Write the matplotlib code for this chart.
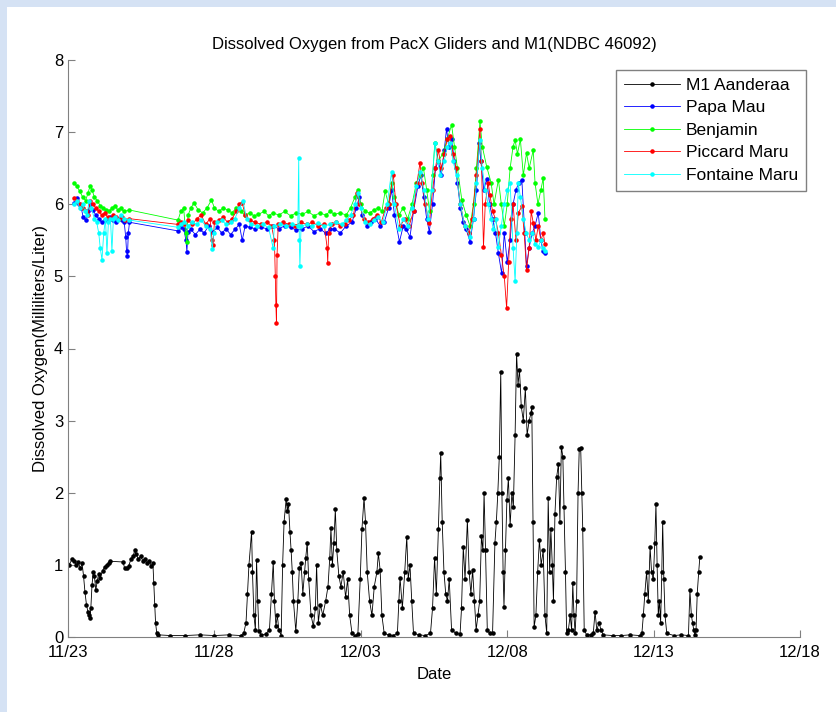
import numpy as np
import matplotlib
matplotlib.use("Agg")
import matplotlib.pyplot as plt
from matplotlib.patches import Rectangle

plt.rcParams['font.family'] = ['Liberation Sans', 'DejaVu Sans']

# x values are days after 11/23
TICK_DAYS   = [0, 5, 10, 15, 20, 25]
TICK_LABELS = ['11/23', '11/28', '12/03', '12/08', '12/13', '12/18']

# M1 Aanderaa mooring
m1_days = [0.03, 0.15, 0.22, 0.28, 0.35, 0.42, 0.48, 0.53, 0.58, 0.63, 0.68, 0.72, 0.75, 0.78, 0.82,
           0.86, 0.9, 0.95, 1.0, 1.05, 1.1, 1.18, 1.25, 1.32, 1.4, 1.45,
           1.88, 1.93, 2.0, 2.07, 2.15, 2.22, 2.28, 2.33, 2.4, 2.48, 2.55, 2.62, 2.7, 2.78, 2.85, 2.9,
           2.93, 2.96, 2.99, 3.03, 3.08, 3.5, 4.0, 4.5, 5.0, 5.5, 5.9,
           6.0, 6.08, 6.13, 6.18, 6.27, 6.3, 6.35, 6.4, 6.44, 6.48, 6.52, 6.6, 6.75, 6.88, 6.95, 7.01,
           7.05, 7.1, 7.15, 7.2, 7.28, 7.33, 7.38, 7.45, 7.49, 7.53, 7.58, 7.62, 7.66, 7.7, 7.78, 7.85,
           7.9, 7.96, 8.02, 8.08, 8.12, 8.17, 8.22, 8.3, 8.38, 8.45, 8.49, 8.55, 8.62, 8.7, 8.8, 8.88,
           8.94, 8.98, 9.03, 9.08, 9.13, 9.18, 9.25, 9.32, 9.4, 9.48, 9.55, 9.62, 9.7, 9.8, 9.9, 9.98,
           10.04, 10.11, 10.16, 10.22, 10.3, 10.38, 10.46, 10.55, 10.6, 10.66, 10.72, 10.8, 10.95, 11.1,
           11.25, 11.3, 11.34, 11.42, 11.5, 11.57, 11.62, 11.68, 11.74, 11.8, 12.0, 12.2, 12.38, 12.45,
           12.52, 12.58, 12.65, 12.7, 12.73, 12.78, 12.84, 12.9, 12.96, 13.02, 13.1, 13.25, 13.39, 13.44,
           13.5, 13.56, 13.64, 13.7, 13.76, 13.82, 13.88, 13.94, 14.0, 14.06, 14.12, 14.17, 14.21, 14.26,
           14.32, 14.4, 14.5, 14.58, 14.63, 14.68, 14.73, 14.78, 14.82, 14.86, 14.89, 14.94, 14.99,
           15.04, 15.1, 15.16, 15.21, 15.27, 15.32, 15.37, 15.42, 15.48, 15.55, 15.62, 15.68, 15.75,
           15.81, 15.84, 15.88, 15.92, 15.98, 16.04, 16.1, 16.16, 16.23, 16.29, 16.35, 16.4, 16.45,
           16.49, 16.54, 16.58, 16.63, 16.69, 16.75, 16.8, 16.85, 16.9, 16.94, 16.99, 17.03, 17.09,
           17.15, 17.2, 17.24, 17.28, 17.32, 17.37, 17.42, 17.46, 17.51, 17.55, 17.58, 17.63, 17.71,
           17.85, 17.94, 18.0, 18.06, 18.14, 18.2, 18.28, 18.6, 18.9, 19.2, 19.53, 19.6, 19.65, 19.7,
           19.76, 19.82, 19.88, 19.93, 19.99, 20.04, 20.08, 20.12, 20.16, 20.2, 20.24, 20.28, 20.31,
           20.35, 20.39, 20.45, 20.7, 20.95, 21.19, 21.24, 21.29, 21.33, 21.37, 21.41, 21.45, 21.49,
           21.54, 21.58]
m1_vals = [1.0, 1.08, 1.05, 1.0, 1.04, 0.95, 1.02, 0.85, 0.62, 0.45, 0.35, 0.3, 0.26, 0.4, 0.72,
           0.9, 0.85, 0.65, 0.78, 0.88, 0.82, 0.92, 0.97, 1.0, 1.03, 1.05,
           1.04, 0.96, 0.95, 0.98, 1.08, 1.12, 1.2, 1.15, 1.08, 1.12, 1.06, 1.08, 1.02, 1.05, 0.98, 1.02,
           0.75, 0.45, 0.2, 0.06, 0.03, 0.02, 0.02, 0.03, 0.02, 0.03, 0.02,
           0.05, 0.2, 0.6, 1.0, 1.46, 0.9, 0.3, 0.1, 1.07, 0.5, 0.08, 0.03, 0.04, 0.1, 0.6, 1.04,
           0.5, 0.15, 0.3, 0.1, 0.02, 1.0, 1.6, 1.91, 1.75, 1.85, 1.46, 1.2, 0.9, 0.5, 0.08, 0.5,
           0.95, 1.03, 0.6, 0.9, 1.1, 1.31, 0.8, 0.3, 0.15, 0.4, 1.0, 0.2, 0.45, 0.3, 0.5, 0.7,
           1.1, 1.51, 1.0, 1.3, 1.77, 1.2, 0.85, 0.7, 0.9, 0.55, 0.8, 0.3, 0.05, 0.02, 0.04, 0.8,
           1.5, 1.93, 1.6, 0.9, 0.5, 0.3, 0.7, 0.9, 1.16, 0.93, 0.3, 0.05, 0.03, 0.02,
           0.05, 0.5, 0.82, 0.4, 0.9, 1.39, 0.8, 1.0, 0.5, 0.05, 0.03, 0.02, 0.05, 0.4,
           1.1, 0.6, 1.5, 2.2, 2.55, 1.6, 0.9, 0.6, 0.5, 0.8, 0.1, 0.05, 0.04, 0.4,
           1.25, 0.8, 1.62, 0.9, 0.6, 0.93, 0.5, 0.1, 0.3, 0.5, 1.4, 1.2, 2.0, 1.2,
           0.1, 0.05, 0.05, 1.3, 1.6, 2.0, 2.5, 3.68, 2.0, 0.9, 0.42, 1.2, 1.9,
           2.2, 1.55, 2.0, 1.8, 2.8, 3.93, 3.5, 3.7, 3.2, 3.0, 3.45, 2.8, 3.0,
           3.1, 3.19, 1.6, 0.14, 0.3, 0.9, 1.35, 1.0, 1.2, 0.3, 0.05, 1.93, 0.9,
           1.5, 1.0, 0.5, 1.7, 2.22, 2.4, 1.6, 2.64, 2.5, 1.8, 0.9, 0.05, 0.1,
           0.3, 0.1, 0.75, 0.3, 0.05, 0.5, 2.0, 2.6, 2.62, 2.0, 1.5, 0.1, 0.03,
           0.03, 0.05, 0.35, 0.1, 0.2, 0.1, 0.03, 0.02, 0.02, 0.03, 0.02, 0.05, 0.3, 0.6,
           0.9, 0.5, 1.25, 0.9, 0.8, 1.3, 1.85, 1.0, 0.3, 0.5, 0.2, 0.9, 1.6,
           0.8, 0.3, 0.05, 0.02, 0.03, 0.02, 0.65, 0.3, 0.2, 0.1, 0.03, 0.1, 0.6,
           0.9, 1.11]

# Papa Mau glider
papa_days = [0.22, 0.3, 0.38, 0.45, 0.52, 0.6, 0.68, 0.75, 0.85, 0.95, 1.05, 1.15, 1.25, 1.35, 1.45,
             1.55, 1.65, 1.75, 1.85, 1.92, 1.97, 2.0, 2.03, 2.06, 2.1,
             3.76, 3.85, 3.95, 4.03, 4.06, 4.1, 4.2, 4.35, 4.5, 4.65, 4.8, 4.95, 5.1, 5.25, 5.4, 5.55,
             5.7, 5.85, 5.95, 6.05, 6.2, 6.4, 6.6, 6.8, 7.0, 7.2, 7.4, 7.6, 7.8, 8.0, 8.2, 8.4, 8.6,
             8.8, 8.95, 9.1, 9.3, 9.5, 9.7, 9.85, 9.95, 10.05, 10.2, 10.35, 10.5, 10.66, 10.8, 10.95,
             11.05, 11.15, 11.32, 11.45, 11.55, 11.68, 11.8, 11.95, 12.05, 12.15, 12.25, 12.34, 12.45,
             12.55, 12.65, 12.75, 12.85, 12.93, 13.0, 13.1, 13.2, 13.3, 13.4, 13.5, 13.6, 13.73, 13.85,
             13.95, 14.05, 14.1, 14.2, 14.3, 14.4, 14.5, 14.6, 14.7, 14.81, 14.9, 15.0, 15.1, 15.2,
             15.3, 15.4, 15.5, 15.6, 15.66, 15.75, 15.85, 15.95, 16.06, 16.15, 16.22, 16.29]
papa_vals = [6.02, 6.08, 6.0, 5.95, 5.82, 5.78, 5.9, 6.0, 5.92, 5.85, 5.8, 5.75, 5.78, 5.8, 5.82,
             5.78, 5.75, 5.8, 5.78, 5.75, 5.55, 5.35, 5.28, 5.6, 5.75,
             5.63, 5.68, 5.66, 5.5, 5.34, 5.62, 5.65, 5.58, 5.65, 5.6, 5.7, 5.62, 5.68, 5.6, 5.66, 5.58,
             5.65, 5.72, 5.5, 5.7, 5.68, 5.66, 5.68, 5.66, 5.7, 5.66, 5.7, 5.68, 5.64, 5.66, 5.7, 5.62, 5.66,
             5.6, 5.65, 5.66, 5.6, 5.7, 5.75, 5.95, 6.1, 5.85, 5.7, 5.75, 5.8, 5.7, 5.75, 5.95,
             6.2, 5.85, 5.48, 5.7, 5.65, 5.55, 5.9, 6.25, 6.4, 6.1, 5.8, 5.62, 6.0,
             6.5, 6.6, 6.4, 6.75, 7.05, 6.8, 6.9, 6.6, 6.3, 5.95, 5.75, 5.65, 5.48, 5.8,
             6.2, 6.85, 6.6, 6.2, 6.35, 6.0, 5.8, 5.6, 5.32, 5.04, 5.6, 5.2, 5.5, 6.0,
             6.2, 6.3, 6.34, 5.6, 5.14, 5.4, 5.6, 5.7, 5.88, 5.5, 5.35, 5.32]

# Benjamin glider
benj_days = [0.22, 0.3, 0.4, 0.5, 0.6, 0.68, 0.75, 0.82, 0.9, 1.0, 1.1, 1.2, 1.3, 1.4, 1.5, 1.6, 1.7,
             1.8, 1.9, 2.1,
             3.76, 3.85, 3.95, 4.02, 4.05, 4.1, 4.2, 4.3, 4.45, 4.6, 4.75, 4.9, 5.0, 5.15, 5.3, 5.45,
             5.6, 5.75, 5.9, 6.05, 6.2, 6.35, 6.5, 6.7, 6.85, 7.0, 7.2, 7.4, 7.6, 7.8, 8.0, 8.2, 8.4,
             8.6, 8.8, 8.95, 9.1, 9.3, 9.5, 9.65, 9.8, 9.9, 10.0, 10.15, 10.3, 10.45, 10.6, 10.72,
             10.83, 10.95, 11.05, 11.15, 11.3, 11.45, 11.6, 11.75, 11.9, 12.02, 12.14, 12.25, 12.35,
             12.45, 12.53, 12.65, 12.8, 12.95, 13.1, 13.2, 13.3, 13.45, 13.6, 13.73, 13.85, 13.95,
             14.07, 14.15, 14.3, 14.45, 14.55, 14.7, 14.8, 14.9, 15.0, 15.1, 15.2, 15.27, 15.35, 15.45,
             15.55, 15.66, 15.75, 15.89, 15.95, 16.05, 16.15, 16.23, 16.29]
benj_vals = [6.29, 6.25, 6.18, 6.1, 6.05, 6.15, 6.25, 6.2, 6.1, 6.05, 5.98, 5.95, 5.92, 5.9, 5.95, 5.98, 5.92,
             5.95, 5.9, 5.92,
             5.78, 5.9, 5.95, 5.6, 5.48, 5.85, 5.95, 6.02, 5.92, 5.88, 5.95, 6.06, 5.95, 5.9, 5.95, 5.92,
             5.88, 5.95, 5.9, 5.85, 5.88, 5.84, 5.86, 5.9, 5.84, 5.88, 5.85, 5.9, 5.84, 5.88, 5.86, 5.9, 5.84,
             5.88, 5.85, 5.9, 5.86, 5.88, 5.85, 5.95, 6.1, 6.2, 6.0, 5.9, 5.88, 5.92, 5.95, 5.9,
             6.18, 6.0, 6.3, 6.1, 5.85, 5.95, 5.8, 6.0, 6.3, 6.4, 6.5, 6.2, 5.9,
             6.4, 6.85, 6.6, 6.7, 6.9, 7.1, 6.8, 6.5, 6.06, 5.85, 5.7, 6.0, 6.5,
             7.15, 6.8, 6.52, 6.3, 6.0, 6.34, 6.0, 5.7, 6.0, 6.5, 6.8, 6.89, 6.7, 6.9,
             6.4, 6.71, 6.5, 6.75, 6.3, 6.0, 6.2, 6.36, 5.8]

# Piccard Maru glider
picc_days = [0.22, 0.3, 0.4, 0.5, 0.6, 0.7, 0.75, 0.85, 0.95, 1.05, 1.15, 1.25, 1.35, 1.45, 1.55, 1.65,
             1.75, 1.85, 1.95, 2.1,
             3.76, 3.85, 3.95, 4.1, 4.25, 4.4, 4.55, 4.7, 4.85, 4.92, 4.95, 5.0, 5.15, 5.3, 5.45, 5.6,
             5.75, 5.85, 5.95, 6.05, 6.2, 6.4, 6.6, 6.8, 6.95, 7.05, 7.08, 7.1, 7.12, 7.14, 7.18, 7.35,
             7.55, 7.75, 7.95, 8.15, 8.35, 8.55, 8.75, 8.85, 8.87, 8.9, 9.0, 9.15, 9.3, 9.45, 9.6, 9.75,
             9.87, 9.95, 10.1, 10.25, 10.4, 10.55, 10.7, 10.85, 10.95, 11.11, 11.2, 11.35, 11.5, 11.65,
             11.8, 11.92, 12.02, 12.1, 12.2, 12.34, 12.45, 12.55, 12.65, 12.75, 12.85, 12.95, 13.05,
             13.15, 13.25, 13.4, 13.55, 13.7, 13.8, 13.95, 14.07, 14.12, 14.19, 14.25, 14.35, 14.41,
             14.5, 14.6, 14.7, 14.8, 14.9, 14.98, 15.05, 15.12, 15.2, 15.3, 15.38, 15.5, 15.58, 15.66,
             15.75, 15.82, 15.89, 15.98, 16.06, 16.15, 16.23, 16.29]
picc_vals = [6.08, 6.05, 6.0, 5.95, 5.9, 5.85, 6.05, 6.0, 5.95, 5.9, 5.85, 5.88, 5.82, 5.8, 5.85, 5.82,
             5.8, 5.82, 5.78, 5.8,
             5.72, 5.75, 5.72, 5.78, 5.72, 5.8, 5.85, 5.72, 5.8, 5.5, 5.44, 5.75, 5.78, 5.82, 5.75, 5.8,
             5.9, 6.0, 6.02, 5.85, 5.78, 5.75, 5.72, 5.75, 5.7, 5.5, 5.0, 4.6, 4.35, 5.3, 5.72, 5.75,
             5.72, 5.7, 5.75, 5.72, 5.75, 5.7, 5.72, 5.4, 5.18, 5.6, 5.72, 5.75, 5.7, 5.72, 5.78, 5.85,
             6.15, 6.0, 5.8, 5.75, 5.8, 5.85, 5.75, 5.95, 6.0, 6.41, 6.0, 5.7, 5.8, 5.7,
             5.9, 6.3, 6.57, 6.3, 6.0, 5.74, 6.2, 6.5, 6.75, 6.5, 6.7, 6.9, 6.95,
             6.7, 6.5, 6.0, 5.7, 5.6, 5.8, 6.4, 7.05, 6.6, 5.41, 6.0, 6.3, 6.13,
             5.9, 5.8, 5.6, 5.3, 5.0, 4.56, 5.2, 5.8, 6.0, 5.5, 5.88, 5.97, 5.6, 5.09,
             5.4, 5.9, 5.74, 5.5, 5.7, 5.5, 5.6, 5.45]

# Fontaine Maru glider
font_days = [0.22, 0.3, 0.4, 0.5, 0.58, 0.65, 0.72, 0.8, 0.9, 0.98, 1.05, 1.1, 1.16, 1.22, 1.28, 1.33,
             1.38, 1.45, 1.5, 1.55, 1.62, 1.7, 1.8, 1.9, 2.1,
             3.76, 3.85, 3.95, 4.1, 4.25, 4.4, 4.55, 4.7, 4.85, 4.93, 4.97, 5.1, 5.25, 5.4, 5.55, 5.7,
             5.85, 5.98, 6.1, 6.25, 6.45, 6.65, 6.85, 7.0, 7.05, 7.25, 7.45, 7.65, 7.85, 7.88, 7.9, 7.92,
             7.96, 8.15, 8.35, 8.55, 8.75, 8.95, 9.15, 9.35, 9.5, 9.65, 9.8, 9.9, 10.0, 10.15, 10.3,
             10.45, 10.6, 10.75, 10.9, 11.05, 11.15, 11.3, 11.45, 11.6, 11.75, 11.9, 12.02, 12.15, 12.3,
             12.42, 12.53, 12.62, 12.72, 12.85, 12.95, 13.05, 13.15, 13.27, 13.4, 13.55, 13.73, 13.85,
             13.95, 14.07, 14.15, 14.25, 14.35, 14.45, 14.53, 14.62, 14.7, 14.8, 14.9, 15.0, 15.1, 15.2,
             15.27, 15.33, 15.38, 15.45, 15.55, 15.65, 15.75, 15.85, 15.95, 16.06, 16.15, 16.22, 16.29]
font_vals = [6.0, 6.05, 5.95, 6.0, 5.9, 5.85, 6.05, 5.95, 5.8, 5.75, 5.6, 5.4, 5.23, 5.6, 5.8, 5.32,
             5.75, 5.8, 5.35, 5.8, 5.82, 5.78, 5.85, 5.8, 5.78,
             5.68, 5.72, 5.75, 5.7, 5.75, 5.72, 5.78, 5.7, 5.65, 5.38, 5.6, 5.75, 5.78, 5.72, 5.75, 5.8,
             5.95, 6.04, 5.8, 5.72, 5.7, 5.72, 5.68, 5.4, 5.7, 5.72, 5.7, 5.72, 5.7, 6.64, 5.5, 5.14,
             5.7, 5.72, 5.7, 5.74, 5.7, 5.72, 5.75, 5.72, 5.78, 5.85, 6.0, 6.15, 5.95, 5.75, 5.72,
             5.78, 5.82, 5.75, 6.0, 6.45, 6.0, 5.65, 5.8, 5.7, 5.95, 6.25, 6.45, 6.2, 5.8,
             6.2, 6.85, 6.6, 6.4, 6.6, 6.8, 6.85, 6.6, 6.4, 6.0, 5.7, 5.55, 5.8,
             6.3, 6.89, 6.5, 6.2, 6.0, 5.8, 5.65, 5.8, 5.41, 5.7, 6.0, 6.2, 6.3, 5.4,
             4.93, 5.6, 6.29, 6.1, 5.8, 5.6, 5.5, 5.6, 5.45, 5.41, 5.5, 5.4, 5.35]

fig = plt.figure(figsize=(8.36, 7.12), dpi=100)
fig.patch.set_facecolor('#d5e2f4')
# white panel; the light blue only shows as a thin strip on the top and left
panel = Rectangle((7 / 836, 0), 1, 1 - 7 / 712, transform=fig.transFigure,
                  facecolor='white', edgecolor='none', zorder=-10)
fig.add_artist(panel)

ax = fig.add_axes([68 / 836, 75 / 712, 732 / 836, 577 / 712])
ax.set_zorder(1)
ax.set_facecolor('none')

series = [
    (m1_days, m1_vals, 'k', 'M1 Aanderaa'),
    (papa_days, papa_vals, '#0000ff', 'Papa Mau'),
    (benj_days, benj_vals, '#00ff00', 'Benjamin'),
    (picc_days, picc_vals, '#ff0000', 'Piccard Maru'),
    (font_days, font_vals, '#00ffff', 'Fontaine Maru'),
]
for d, v, c, name in series:
    ax.plot(d, v, color=c, lw=0.6, marker='.', ms=4.5, label=name)

ax.set_xlim(0, 25)
ax.set_ylim(0, 8)
ax.set_xticks(TICK_DAYS)
ax.set_xticklabels(TICK_LABELS)
ax.set_yticks(range(0, 9))
ax.tick_params(direction='in', length=5, color='#808080', labelsize=12)
ax.tick_params(axis='x', pad=6)
for s in ['top', 'right']:
    ax.spines[s].set_visible(False)
for s in ['left', 'bottom']:
    ax.spines[s].set_color('#808080')

ax.set_title('Dissolved Oxygen from PacX Gliders and M1(NDBC 46092)', fontsize=12, pad=8)
ax.set_xlabel('Date', fontsize=12, labelpad=5)
ax.set_ylabel('Dissolved Oxygen(Milliliters/Liter)', fontsize=12, labelpad=4)

leg = ax.legend(loc='upper right', bbox_to_anchor=(806 / 836, 1 - 70 / 712),
                bbox_transform=fig.transFigure, fontsize=12.5, fancybox=False,
                edgecolor='#808080', handlelength=3.2, numpoints=1, framealpha=1,
                borderpad=0.45, labelspacing=0.42, handletextpad=0.35, borderaxespad=0)
leg.get_frame().set_linewidth(1.0)

fig.savefig('out.png', dpi=100, facecolor=fig.get_facecolor())
